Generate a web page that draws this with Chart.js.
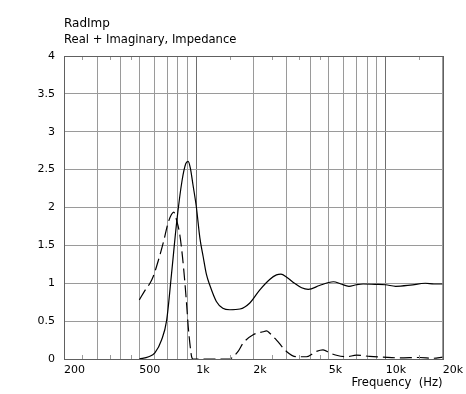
<!DOCTYPE html>
<html>
<head>
<meta charset="utf-8">
<script src="https://cdn.jsdelivr.net/npm/chart.js@4"></script>
<style>
  html, body { margin: 0; padding: 0; background: #fff; }
  #wrap { width: 466px; height: 394px; position: relative; }
</style>
</head>
<body>
<div id="wrap"><canvas id="chart-radimp" width="466" height="394"></canvas></div>
<script>
// ─── Data ──────────────────────────────────────────────────
const freqReal = [500, 560, 604, 655, 697, 740, 787, 840, 880, 905, 930, 960, 1000, 1044, 1087, 1130, 1176, 1276, 1380, 1503, 1700, 1917, 2160, 2440, 2650, 2800, 3000, 3300, 3600, 3900, 4470, 5000, 5300, 5800, 6400, 7000, 7600, 8800, 10000, 11300, 13500, 16200, 18000, 20000];
const valReal  = [0.0, 0.03, 0.08, 0.25, 0.51, 1.13, 1.80, 2.35, 2.58, 2.61, 2.52, 2.30, 2.01, 1.60, 1.35, 1.12, 0.98, 0.76, 0.67, 0.65, 0.66, 0.74, 0.91, 1.05, 1.11, 1.12, 1.08, 1.00, 0.94, 0.92, 0.97, 1.01, 1.02, 0.99, 0.96, 0.98, 0.99, 0.985, 0.98, 0.96, 0.975, 1.0, 0.99, 0.99];

const freqImag = [500, 540, 569, 592, 630, 668, 712, 740, 760, 787, 818, 845, 868, 890, 906, 925, 944, 960, 1500, 1565, 1662, 1767, 1996, 2254, 2348, 2444, 2652, 2993, 3380, 3816, 4312, 4670, 5066, 5497, 6208, 7010, 8240, 9680, 11860, 15120, 17780, 20000];
const valImag  = [0.78, 0.92, 1.00, 1.09, 1.30, 1.53, 1.81, 1.91, 1.94, 1.83, 1.64, 1.35, 1.04, 0.70, 0.43, 0.20, 0.03, 0.0, 0.0, 0.03, 0.10, 0.21, 0.32, 0.36, 0.37, 0.34, 0.25, 0.10, 0.03, 0.03, 0.10, 0.12, 0.08, 0.05, 0.03, 0.05, 0.035, 0.025, 0.015, 0.02, 0.01, 0.025];

const gridFreqs   = [200, 300, 400, 500, 600, 700, 800, 900, 1000, 2000, 3000, 4000, 5000, 6000, 7000, 8000, 9000, 10000, 20000];
const labelFreqs  = [200, 500, 1000, 2000, 5000, 10000, 20000];
const labelTexts  = ['200', '500', '1k', '2k', '5k', '10k', '20k'];
const minorFreqs  = [250, 350, 450, 1500, 2500, 3500, 4500, 15000];
const darkFreqs   = [1000, 10000];

const titleText    = 'RadImp';
const subtitleText = 'Real + Imaginary, Impedance';
const xAxisTitle   = 'Frequency  (Hz)';

const FONT = '"DejaVu Sans", Verdana, sans-serif';

const toPoints = (fs, vs) => fs.map((f, i) => ({ x: f, y: vs[i] }));

// ─── Frame, minor ticks and titles ───────────────────────
const framePlugin = {
  id: 'frame',
  afterDraw(chart) {
    const { ctx, chartArea: a, scales } = chart;
    ctx.save();
    ctx.strokeStyle = '#9a9a9a';
    ctx.lineWidth = 1;
    minorFreqs.forEach(f => {
      const x = Math.round(scales.x.getPixelForValue(f)) + 0.5;
      ctx.beginPath();
      ctx.moveTo(x, a.top); ctx.lineTo(x, a.top + 4);
      ctx.moveTo(x, a.bottom); ctx.lineTo(x, a.bottom - 4);
      ctx.stroke();
    });
    ctx.strokeStyle = '#606060';
    ctx.strokeRect(Math.round(a.left) + 0.5, Math.round(a.top) + 0.5,
                   Math.round(a.right - a.left), Math.round(a.bottom - a.top));
    ctx.fillStyle = '#000';
    ctx.textAlign = 'left';
    ctx.textBaseline = 'alphabetic';
    ctx.font = '12px ' + FONT;
    ctx.fillText(titleText, a.left, 27);
    ctx.font = '11.6px ' + FONT;
    ctx.fillText(subtitleText, a.left, 43);
    ctx.restore();
  }
};

new Chart(document.getElementById('chart-radimp'), {
  type: 'line',
  data: {
    datasets: [
      {
        label: 'Real',
        data: toPoints(freqReal, valReal),
        borderColor: '#000',
        borderWidth: 1.2,
        pointRadius: 0,
        fill: false,
        cubicInterpolationMode: 'monotone',
      },
      {
        label: 'Imaginary',
        data: toPoints(freqImag, valImag),
        borderColor: '#000',
        borderWidth: 1.2,
        borderDash: [12, 5],
        pointRadius: 0,
        fill: false,
        cubicInterpolationMode: 'monotone',
      },
    ],
  },
  options: {
    responsive: false,
    animation: false,
    layout: { padding: { left: 0, top: 56, right: 23, bottom: 0 } },
    plugins: {
      legend: { display: false },
      tooltip: { enabled: false },
    },
    scales: {
      x: {
        type: 'logarithmic',
        min: 200,
        max: 20000,
        afterBuildTicks: (s) => { s.ticks = gridFreqs.map(v => ({ value: v })); },
        afterFit: (s) => { s.height = 35; },
        grid: {
          drawTicks: true,
          tickLength: 2,
          tickColor: 'rgba(0,0,0,0)',
          color: (c) => (c.tick && darkFreqs.includes(c.tick.value)) ? '#6e6e6e' : '#9a9a9a',
        },
        border: { display: false },
        ticks: {
          autoSkip: false,
          maxRotation: 0,
          align: 'start',
          padding: 3,
          color: '#000',
          font: { size: 11, family: FONT },
          callback: (v) => {
            const i = labelFreqs.indexOf(v);
            return i >= 0 ? labelTexts[i] : '';
          },
        },
        title: {
          display: true,
          text: xAxisTitle,
          align: 'end',
          color: '#000',
          font: { size: 11.6, family: FONT },
          padding: { top: 0, bottom: 4 },
        },
      },
      y: {
        min: 0,
        max: 4,
        afterFit: (s) => { s.width = 64; },
        grid: { drawTicks: false, color: '#9a9a9a' },
        border: { display: false },
        ticks: {
          stepSize: 0.5,
          padding: 9,
          color: '#000',
          font: { size: 11, family: FONT },
          callback: (v) => String(v),
        },
      },
    },
  },
  plugins: [framePlugin],
});
</script>
</body>
</html>
